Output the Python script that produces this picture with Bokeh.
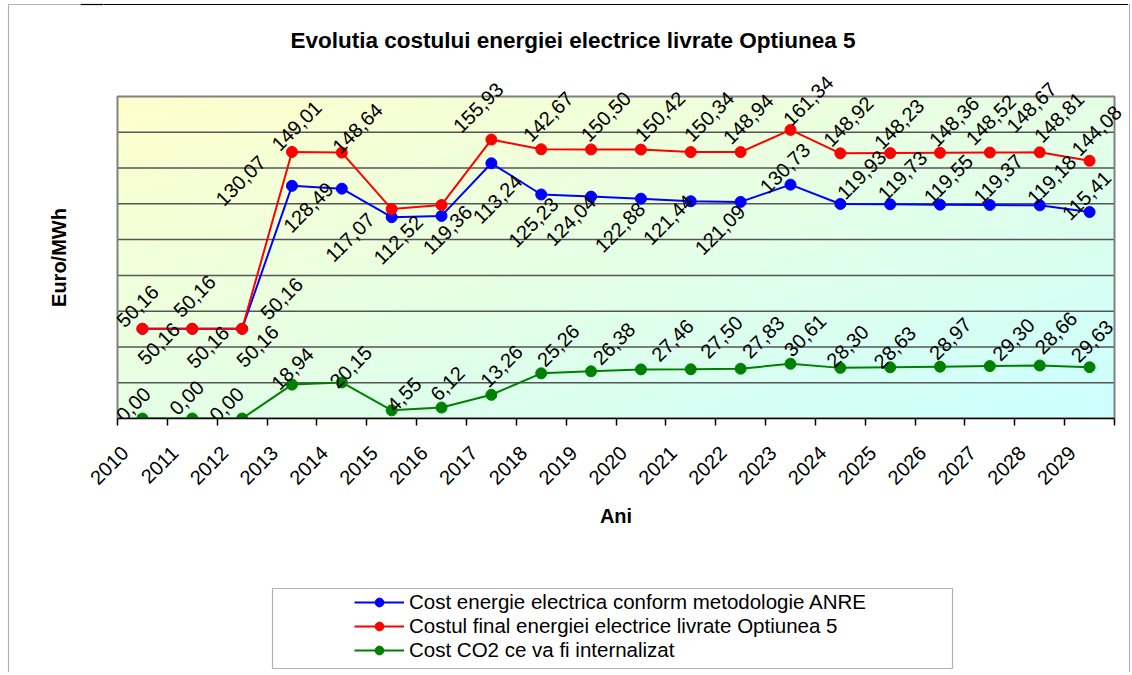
import numpy as np
from math import pi
from bokeh.plotting import figure
from bokeh.layouts import row, column
from bokeh.models import (Range1d, FixedTicker, ColumnDataSource, LabelSet, Label,
                          Legend, LegendItem, BoxAnnotation, Span)
from bokeh.core.properties import value
from bokeh.embed import file_html
from bokeh.resources import INLINE

# ---------------- data ----------------
years = ["2010", "2011", "2012", "2013", "2014", "2015", "2016", "2017", "2018", "2019",
         "2020", "2021", "2022", "2023", "2024", "2025", "2026", "2027", "2028", "2029"]
cost_anre = [50.16, 50.16, 50.16, 130.07, 128.49, 112.52, 113.24, 142.67, 125.23, 124.04,
             122.88, 121.44, 121.09, 130.73, 119.93, 119.73, 119.55, 119.37, 119.18, 115.41]
cost_final = [50.16, 50.16, 50.16, 149.01, 148.64, 117.07, 119.36, 155.93, 150.50, 150.42,
              150.34, 148.94, 148.92, 161.34, 148.23, 148.36, 148.52, 148.67, 148.81, 144.08]
cost_co2 = [0.00, 0.00, 0.00, 18.94, 20.15, 4.55, 6.12, 13.26, 25.26, 26.38,
            27.46, 27.50, 27.83, 30.61, 28.30, 28.63, 28.97, 29.30, 29.63, 28.66]
grid_values = [20, 40, 60, 80, 100, 120, 140, 160]

series_names = ["Cost energie electrica conform metodologie ANRE",
                "Costul final energiei electrice livrate Optiunea 5",
                "Cost CO2 ce va fi internalizat"]

# label offsets in screen pixels (dx right, dy down) as placed in the original chart
anre_dx = [16.4, 15.7, 15.4, -51.2, -33.5, 6.6, 56.0, 56.9, -7.9, -20.3,
           -20.9, -22.5, -20.6, -5.5, 21.3, 12.3, 8.3, 8.4, 11.9, -3.0]
anre_dy = [14.9, 18.3, 17.4, -5.2, 18.7, 22.6, -17.0, -46.8, 27.8, 24.0,
           28.6, 18.5, 27.9, -16.5, -29.2, -28.7, -25.7, -26.1, -25.5, -16.5]
final_dx = [-4.9, 2.3, 39.5, 4.6, 15.7, -41.7, 6.0, -13.1, 64.6, 68.9,
            68.2, 57.5, 107.7, 17.8, 58.8, 63.9, 50.8, 41.7, 19.4, 7.0]
final_dy = [-22.6, -32.6, -30.1, -26.2, -24.4, 28.2, 24.8, -32.1, -32.8, -32.9,
            -33.1, -33.1, -30.6, -29.1, -29.3, -31.6, -32.9, -45.2, -34.9, -30.1]
co2_dx = [-9.1, -5.7, -15.5, 0.5, 9.0, 12.4, 6.0, 10.2, 17.1, 23.0,
          31.6, 30.8, 22.7, 14.5, 7.2, 4.6, 10.3, 23.7, 52.3, -33.5]
co2_dy = [-14.1, -20.8, -14.1, -16.1, -15.5, -15.9, -24.0, -28.7, -28.0, -27.7,
          -29.1, -32.3, -31.7, -28.4, -21.8, -20.0, -28.1, -26.6, -24.4, -34.4]

# ---------------- layout (page pixels) ----------------
FONT = "Liberation Sans"
PAGE_H = 672
LEFT_W, RIGHT_W = 80, 3         # side strips: outer border + y-axis title
MAIN_X0, MAIN_X1 = LEFT_W, 1128
FRAME_X0 = 103                  # main frame starts here (centred on the plot area)
TOP_H = 540                     # chart + x axis
PA_L, PA_R, PA_T, PA_B = 117, 1114, 96, 418   # plot area
NCAT, YMAX = len(years), 180

def fx(px):
    return (px - PA_L) / (PA_R - PA_L) * NCAT

def fy(py):
    return (PA_B - py) / (PA_B - PA_T) * YMAX

def bare(fig):
    fig.outline_line_color = None
    fig.grid.visible = False
    fig.border_fill_color = "white"
    fig.background_fill_color = "white"
    return fig

# ================= main chart =================
p = bare(figure(width=MAIN_X1 - MAIN_X0, height=TOP_H,
                x_range=Range1d(fx(FRAME_X0), fx(MAIN_X1)), y_range=Range1d(0, fy(0)),
                output_backend="svg", toolbar_location=None, title=None,
                min_border_left=FRAME_X0 - MAIN_X0, min_border_right=0, min_border_top=0,
                min_border_bottom=TOP_H - PA_B))

# gradient plot-area background
ny, nx = 160, 400
cols = (np.arange(nx) + 0.5) / nx
rows = (np.arange(ny) + 0.5) / ny
t = (cols[None, :] + (1 - rows[:, None])) / 2
img = np.empty((ny, nx), dtype=np.uint32)
view = img.view(dtype=np.uint8).reshape((ny, nx, 4))
view[..., 0] = (255 - 51 * t).astype(np.uint8)
view[..., 1] = 255
view[..., 2] = (204 + 51 * t).astype(np.uint8)
view[..., 3] = 255
p.image_rgba(image=[img], x=0, y=0, dw=NCAT, dh=YMAX)

# horizontal grid lines and plot-area border
p.segment(x0=0, x1=NCAT, y0=grid_values, y1=grid_values,
          line_color="#555555", line_width=1.5)
p.quad(left=0, right=NCAT, bottom=0, top=YMAX, fill_color=None,
       line_color="#808080", line_width=2)

# x axis
xa = p.xaxis[0]
major = [i + 0.15 for i in range(NCAT)]
xa.ticker = FixedTicker(ticks=major, minor_ticks=list(range(NCAT + 1)))
xa.major_label_overrides = {m: years[i] for i, m in enumerate(major)}
xa.bounds = (0, NCAT)
xa.major_tick_line_color = None
xa.major_tick_out = 0
xa.major_tick_in = 0
xa.minor_tick_line_color = "black"
xa.minor_tick_line_width = 1.5
xa.minor_tick_out = 7
xa.minor_tick_in = 0
xa.axis_line_color = "black"
xa.axis_line_width = 1.5
xa.major_label_orientation = pi / 4
xa.major_label_standoff = 24
xa.major_label_text_font = FONT
xa.major_label_text_font_size = "20px"
xa.major_label_text_color = "black"
xa.axis_label = "Ani"
xa.axis_label_text_font = FONT
xa.axis_label_text_font_size = "20px"
xa.axis_label_text_font_style = "bold"
xa.axis_label_text_color = "black"
xa.axis_label_standoff = 11

# y axis: no scale shown; its single outward tick continues the outer top border
ya = p.yaxis[0]
top_line = fy(4)
ya.ticker = FixedTicker(ticks=[top_line])
ya.major_label_overrides = {top_line: ""}
ya.major_label_standoff = 0
ya.major_tick_out = FRAME_X0 - MAIN_X0
ya.major_tick_in = 0
ya.major_tick_line_color = "black"
ya.major_tick_line_width = 1.2
ya.minor_tick_line_color = None
ya.axis_line_color = None

# series
xs = [i + 0.5 for i in range(NCAT)]
src = ColumnDataSource(dict(x=xs, anre=cost_anre, final=cost_final, co2=cost_co2))
colors = ["#0000FF", "#FF0000", "#008000"]
keys = ["anre", "final", "co2"]
for col, color in zip(keys, colors):
    p.line("x", col, source=src, line_color=color, line_width=2)
    p.scatter("x", col, source=src, size=11, fill_color=color, line_color=color)

# data labels
def fmt(v):
    return f"{v:.2f}".replace(".", ",")

for vals, dxs, dys in [(cost_anre, anre_dx, anre_dy),
                       (cost_final, final_dx, final_dy),
                       (cost_co2, co2_dx, co2_dy)]:
    ls = ColumnDataSource(dict(x=xs, y=vals, text=[fmt(v) for v in vals],
                               dx=dxs, dy=[-d for d in dys]))
    p.add_layout(LabelSet(x="x", y="y", text="text", source=ls,
                          x_offset="dx", y_offset="dy", angle=pi / 4,
                          text_align="center", text_baseline="middle",
                          text_font=value(FONT), text_font_size="20px",
                          text_color="black"))

# title and outer top border
p.add_layout(Label(x=fx(572.5), y=fy(40),
                   text="Evolutia costului energiei electrice livrate Optiunea 5",
                   text_align="center", text_baseline="middle",
                   text_font=FONT, text_font_size="22.5px", text_font_style="bold",
                   text_color="black"))
p.add_layout(Span(location=top_line, dimension="width", line_color="black", line_width=1.2))

# ================= legend area (frame aligned with the main frame) =================
q = bare(figure(width=MAIN_X1 - MAIN_X0, height=PAGE_H - TOP_H,
                x_range=Range1d(FRAME_X0, MAIN_X1), y_range=Range1d(PAGE_H, TOP_H),
                output_backend="svg", toolbar_location=None, title=None,
                x_axis_location=None, y_axis_location=None,
                min_border_left=FRAME_X0 - MAIN_X0, min_border_right=0,
                min_border_top=0, min_border_bottom=0))
q.add_layout(BoxAnnotation(left=272, right=952, top=588, bottom=668,
                           fill_color="white", fill_alpha=1,
                           line_color="black", line_width=1.2))
items = []
for col, color, name in zip(keys, colors, series_names):
    r1 = q.line("x", col, source=src, line_color=color, line_width=2)
    r2 = q.scatter("x", col, source=src, size=11, fill_color=color, line_color=color)
    items.append(LegendItem(label=name, renderers=[r1, r2]))
legend = Legend(items=items, location=(354 - FRAME_X0, PAGE_H - 662),
                label_text_font=FONT, label_text_font_size="20.5px", label_text_color="black",
                glyph_width=50, glyph_height=22, label_height=22, spacing=-2,
                label_standoff=5, padding=4, margin=0,
                border_line_color=None, background_fill_alpha=0)
q.add_layout(legend, "center")

# ================= side strips =================
def strip(width):
    return bare(figure(width=width, height=PAGE_H, x_range=Range1d(0, width),
                       y_range=Range1d(PAGE_H, 0), output_backend="svg",
                       toolbar_location=None, title=None,
                       x_axis_location=None, y_axis_location=None,
                       min_border_left=0, min_border_right=0,
                       min_border_top=0, min_border_bottom=0))

left_strip = strip(LEFT_W)
left_strip.add_layout(BoxAnnotation(left=8, right=LEFT_W + 50, top=4, bottom=PAGE_H + 50,
                                    fill_alpha=0, line_color="black", line_width=1.2))
left_strip.add_layout(Label(x=58.5, y=257, text="Euro/MWh", angle=pi / 2,
                            text_align="center", text_baseline="middle",
                            text_font=FONT, text_font_size="20px", text_font_style="bold",
                            text_color="black"))
right_strip = strip(RIGHT_W)
right_strip.add_layout(BoxAnnotation(left=-50, right=1, top=4, bottom=PAGE_H + 50,
                                     fill_alpha=0, line_color="black", line_width=1.2))

layout = row(left_strip, column(p, q, spacing=0), right_strip, spacing=0)
open("out.html", "w").write(file_html(layout, INLINE))
